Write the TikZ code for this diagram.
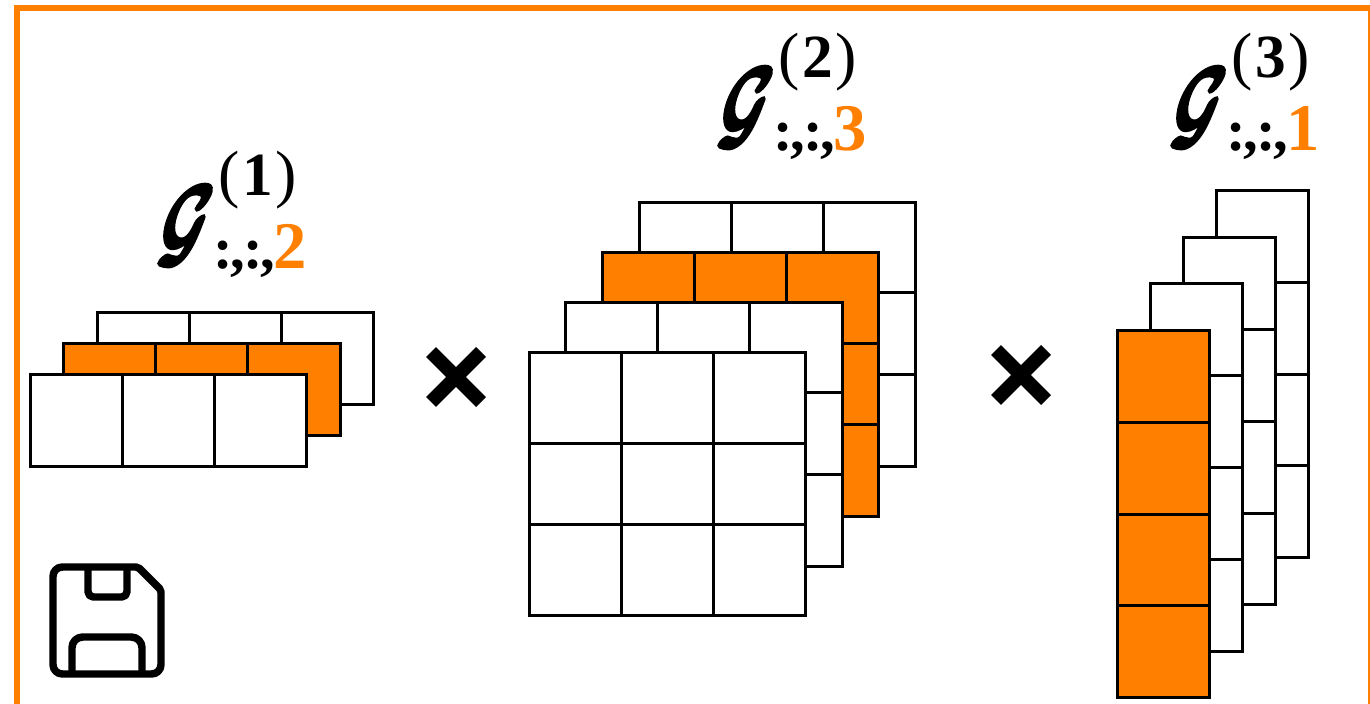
\documentclass[tikz,border=0pt]{standalone}
\usepackage{amsmath,amssymb,bm}
\usepackage{fontspec}
\setmainfont{Liberation Serif}
\definecolor{tensororange}{RGB}{255,128,0}
\tikzset{
  frame/.style={draw=tensororange,line width=4.5pt},
  gridline/.style={draw=black,line width=2.25pt,line join=miter},
  cross/.style={draw=black,line width=10.5pt},
  icon/.style={draw=black,line width=5.6pt,line join=round},
  lbl/.style={inner sep=0pt,anchor=base west},
  glyph/.style={inner sep=0pt,anchor=base west,transform shape,xslant=0.22,xscale=4.6,yscale=7.5},
}
\newcommand{\gridthree}[9]{%
  \path[gridline,fill=#1] (#2,#6) rectangle (#5,#9);
  \draw[gridline] (#3,#6) -- (#3,#9) (#4,#6) -- (#4,#9);
  \draw[gridline] (#2,#7) -- (#5,#7) (#2,#8) -- (#5,#8);
}
\newcommand{\tenslabel}[5]{% name, x, y(base), sup digit, coloured digit
  \node[glyph] (#1g) at (#2,#3) {\special{pdf:code q 2 Tr 0.4 w}$\bm{\mathcal{G}}$\special{pdf:code Q}};
  \node[lbl,font=\fontsize{48}{48}\selectfont] (#1s) at ({#2+63},{#3-60}) {(\kern2pt{\fontsize{46}{46}\selectfont\bfseries #4}\kern2pt)};
  \node[lbl,font=\fontsize{44}{44}\selectfont\bfseries] (#1c) at ({#2+58},{#3+13}) {:\kern-1.6pt,\kern-1.6pt:\kern-1.6pt,\kern-1pt\fontsize{50}{50}\selectfont\textcolor{tensororange}{#5}};
}
\begin{document}
\begin{tikzpicture}[x=0.75pt,y=-0.75pt]
\useasboundingbox (0,0) rectangle (1370,703);
\clip (0,0) rectangle (1370,703);
\fill[white] (0,0) rectangle (1370,703);
\draw[frame] (17,8) rectangle (1371,720);

% left stack
\draw[gridline,fill=white] (97,312) rectangle (373,404);
\draw[gridline] (189,312) -- (189,404) (281,312) -- (281,404);
\draw[gridline,fill=tensororange] (63,343) rectangle (340,435);
\draw[gridline] (155,343) -- (155,435) (247,343) -- (247,435);
\draw[gridline,fill=white] (30,374) rectangle (306,466);
\draw[gridline] (122,374) -- (122,466) (214,374) -- (214,466);

% middle stack
\gridthree{white}{639}{731}{823}{915}{202}{292}{374}{466}
\gridthree{tensororange}{602}{694}{786}{878}{252}{343}{424}{516}
\gridthree{white}{565}{657}{749}{842}{302}{392}{474}{566}
\gridthree{white}{529}{621}{713}{805}{352}{443}{524}{615}

% right stack
\foreach \xa/\xb/\ya/\yb/\yc/\yd/\ye/\col in {
  1216/1308/190/282/374/465/557/white,
  1183/1275/237/329/421/513/604/white,
  1150/1242/283/375/467/559/651/white,
  1117/1209/330/422/514/605/697/tensororange}{
  \draw[gridline,fill=\col] (\xa,\ya) rectangle (\xb,\ye);
  \draw[gridline] (\xa,\yb) -- (\xb,\yb) (\xa,\yc) -- (\xb,\yc) (\xa,\yd) -- (\xb,\yd);
}

% crosses
\draw[cross] (431,352) -- (481,402) (431,402) -- (481,352);
\draw[cross] (996,350) -- (1046,400) (996,400) -- (1046,350);

% labels
\tenslabel{a}{155}{255}{1}{2}
\tenslabel{b}{715}{137}{2}{3}
\tenslabel{c}{1168}{137}{3}{1}

% save icon
\draw[icon] (53,600) [rounded corners=7pt] -- (53,567) [rounded corners=1.5pt] -- (138,567) -- (161,590) [rounded corners=7pt] -- (161,674) -- (53,674) -- cycle;
\draw[icon,rounded corners=4pt] (88,567) -- (88,597) -- (127,597) -- (127,567);
\draw[icon,rounded corners=8pt] (72,674) -- (72,637) -- (142,637) -- (142,674);
\end{tikzpicture}
\end{document}
